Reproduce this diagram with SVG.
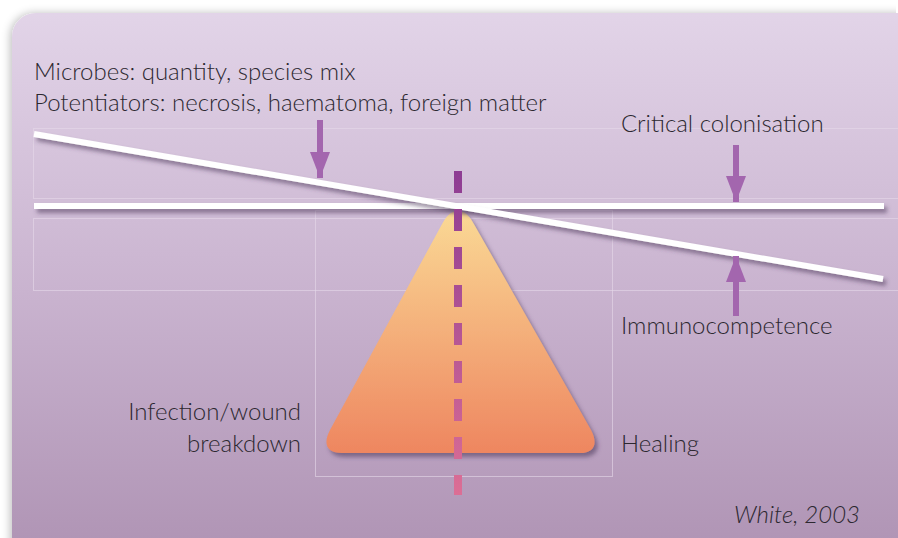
<svg xmlns="http://www.w3.org/2000/svg" width="898" height="538" viewBox="0 0 898 538">
  <defs>
    <linearGradient id="bg" x1="0" y1="0" x2="0" y2="1">
      <stop offset="0" stop-color="#e2d4e8"/>
      <stop offset="0.5" stop-color="#c9b3cf"/>
      <stop offset="1" stop-color="#ad91b2"/>
    </linearGradient>
    <linearGradient id="tri" x1="0" y1="0" x2="0" y2="1">
      <stop offset="0" stop-color="#fad995"/>
      <stop offset="1" stop-color="#ee8660"/>
    </linearGradient>
    <linearGradient id="dash" gradientUnits="userSpaceOnUse" x1="0" y1="171" x2="0" y2="495">
      <stop offset="0" stop-color="#8d3c93"/>
      <stop offset="1" stop-color="#dc6e95"/>
    </linearGradient>
    <filter id="shadow" filterUnits="userSpaceOnUse" x="0" y="0" width="898" height="538">
      <feGaussianBlur in="SourceAlpha" stdDeviation="2"/>
      <feOffset dx="3" dy="4" result="b"/>
      <feFlood flood-color="#4a3658" flood-opacity="0.55"/>
      <feComposite in2="b" operator="in"/>
      <feMerge><feMergeNode/><feMergeNode in="SourceGraphic"/></feMerge>
    </filter>
    <filter id="bgshadow" filterUnits="userSpaceOnUse" x="0" y="0" width="898" height="538">
      <feGaussianBlur in="SourceAlpha" stdDeviation="4"/>
      <feOffset dx="-2" dy="0" result="b"/>
      <feFlood flood-color="#000" flood-opacity="0.25"/>
      <feComposite in2="b" operator="in"/>
      <feMerge><feMergeNode/><feMergeNode in="SourceGraphic"/></feMerge>
    </filter>
    <marker id="ah" viewBox="0 0 26 20" refX="26" refY="10" markerUnits="userSpaceOnUse" markerWidth="26" markerHeight="20" orient="auto">
      <path d="M0,0 L26,10 L0,20 Z" fill="#a366ae"/>
    </marker>
    <style>
      .t { font-family: "Lato", "Open Sans", "Liberation Sans", sans-serif; font-size: 24px; font-weight: 300; fill: #2c2830; }
      .frame { fill: none; stroke: #e6d8ea; stroke-opacity: 0.6; stroke-width: 1; }
      .beam { stroke: #ffffff; stroke-width: 6; fill: none; }
      .arrow { stroke: #a366ae; stroke-width: 6; fill: none; }
    </style>
  </defs>

  <rect x="0" y="0" width="898" height="538" fill="#ffffff"/>
  <rect id="background" x="12" y="13" width="920" height="560" rx="24" ry="24" fill="url(#bg)" filter="url(#bgshadow)"/>

  <g id="frames">
    <rect class="frame" x="33.5" y="128.5" width="880" height="70"/>
    <rect class="frame" x="33.5" y="218.5" width="880" height="72"/>
    <rect class="frame" x="315.5" y="210.5" width="297" height="266"/>
  </g>

  <g id="triangle">
    <path d="M458,211 C450,211 446,217 441,226 L330,430 C323,443 326,453 342,453 L580,453 C595,453 598,443 591,430 L475,226 C470,217 466,211 458,211 Z" fill="url(#tri)" filter="url(#shadow)"/>
  </g>

  <g id="beams">
    <line id="level-beam" class="beam" x1="34" y1="206" x2="884" y2="206" filter="url(#shadow)"/>
    <line id="tilted-beam" class="beam" x1="34" y1="134" x2="883" y2="279" filter="url(#shadow)"/>
  </g>

  <g id="fulcrum-line">
    <line x1="458" y1="171" x2="458" y2="495" stroke="url(#dash)" stroke-width="8" stroke-dasharray="22 16"/>
  </g>

  <g id="connectors">
    <line class="arrow" x1="320" y1="120" x2="320" y2="178" marker-end="url(#ah)"/>
    <line class="arrow" x1="736" y1="145" x2="736" y2="202" marker-end="url(#ah)"/>
    <line class="arrow" x1="736" y1="316" x2="736" y2="256" marker-end="url(#ah)"/>
  </g>

  <g id="label-microbes">
    <text class="t" x="34" y="80">Microbes: quantity, species mix</text>
    <text class="t" x="34" y="111">Potentiators: necrosis, haematoma, foreign matter</text>
  </g>
  <g id="label-critical">
    <text class="t" x="621" y="132">Critical colonisation</text>
  </g>
  <g id="label-immuno">
    <text class="t" x="621" y="334">Immunocompetence</text>
  </g>
  <g id="label-infection">
    <text class="t" x="301" y="420" text-anchor="end">Infection/wound</text>
    <text class="t" x="301" y="452" text-anchor="end">breakdown</text>
  </g>
  <g id="label-healing">
    <text class="t" x="621" y="452">Healing</text>
  </g>
  <g id="citation">
    <text class="t" x="860" y="523" text-anchor="end" font-style="italic">White, 2003</text>
  </g>
</svg>
